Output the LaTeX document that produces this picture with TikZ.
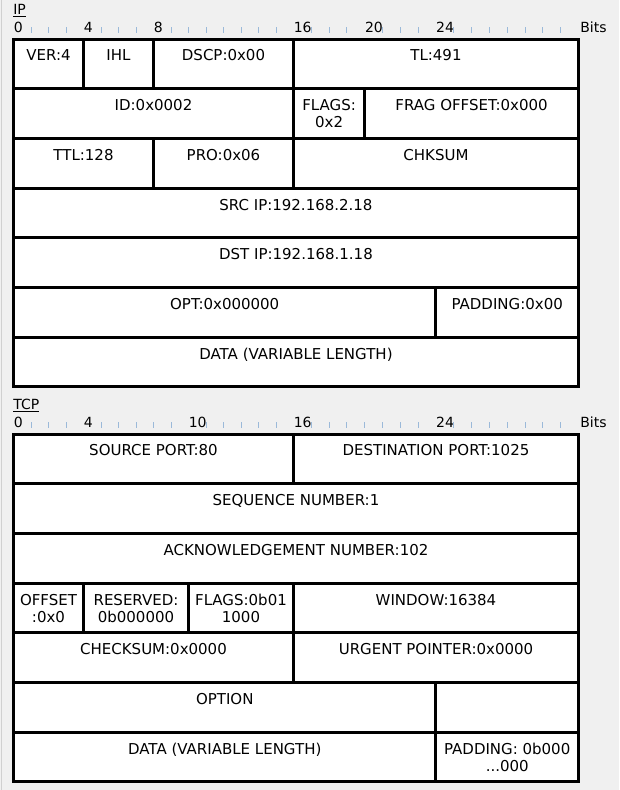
\documentclass[tikz,border=0pt]{standalone}
\usepackage{fontspec}
\setmainfont{DejaVu Sans}
\definecolor{panel}{HTML}{F0F0F0}
\definecolor{tickblue}{HTML}{9BB9D9}
\definecolor{rim}{HTML}{D0D0D0}
\newcommand*{\RowH}{49.7}
\newcommand*{\bx}[1]{(13.5+17.5*min(#1,16)+17.81*max(#1-16,0))}% bit -> x
\newcommand*{\Ruler}[4]{% #1 = title, #2 = baseline, #3 = numbered bits, #4 = ticked bits
  \node[title] (#1) at (13,#2-18) {\underline{#1}};
  \foreach \k in {#3}
    \node[bitnum] (#1-\k) at ({\bx{\k}},#2) {\k};
  \foreach \k in {#4}
    \draw[bittick] ({\bx{\k}},#2-5) -- ({\bx{\k}},#2+1);
  \node[bitnum] (#1-bits) at (580,#2) {Bits};
}
\newcommand*{\Fields}[2]{% #1 = top, #2 = list of name/from/to/row/text
  \foreach \n/\a/\b/\r/\t in {#2} {
    \draw[cellbox] ({\bx{\a}},#1+\RowH*\r) rectangle ({\bx{\b}},#1+\RowH*\r+\RowH);
    \node[celltext] (\n) at ({(\bx{\a}+\bx{\b})/2},#1+\RowH*\r+10.5) {\t};
  }%
}

\begin{document}
\begin{tikzpicture}[x=0.75pt,y=-0.75pt,
    title/.style={anchor=base west,inner sep=0pt,font=\fontsize{10.5}{12}\selectfont},
    bitnum/.style={anchor=base west,inner sep=0pt,font=\fontsize{10.5}{12}\selectfont},
    bittick/.style={draw=tickblue,line width=0.75pt},
    cellbox/.style={draw=black,fill=white,line width=2.25pt},
    celltext/.style={anchor=north,inner sep=0pt,align=center,
      font=\fontsize{11.25}{12.75}\selectfont}]
  \useasboundingbox[fill=panel] (0,0) rectangle (619,790);
  \draw[rim,line width=1pt] (1.5,0) -- (1.5,790);

  % IP header
  \Ruler{IP}{32}{0,4,8,16,20,24}
    {1,2,3,5,6,7,9,10,11,12,13,14,15,17,18,19,21,22,23,25,26,27,28,29,30,31}
  \Fields{39}{ver/0/4/0/VER:4, ihl/4/8/0/IHL, dscp/8/16/0/DSCP:0x00, tl/16/32/0/TL:491,
    id/0/16/1/ID:0x0002, flags/16/20/1/{FLAGS:\\0x2}, frag/20/32/1/FRAG OFFSET:0x000,
    ttl/0/8/2/TTL:128, pro/8/16/2/PRO:0x06, chksum/16/32/2/CHKSUM,
    src/0/32/3/SRC IP:192.168.2.18,
    dst/0/32/4/DST IP:192.168.1.18,
    opt/0/24/5/OPT:0x000000, pad/24/32/5/PADDING:0x00,
    data/0/32/6/DATA (VARIABLE LENGTH)}

  % TCP header
  \Ruler{TCP}{427}{0,4,10,16,24}
    {1,2,3,5,6,7,8,9,11,12,13,14,15,17,18,19,20,21,22,23,25,26,27,28,29,30,31}
  \Fields{434}{sport/0/16/0/SOURCE PORT:80, dport/16/32/0/DESTINATION PORT:1025,
    seq/0/32/1/SEQUENCE NUMBER:1,
    ack/0/32/2/ACKNOWLEDGEMENT NUMBER:102,
    offset/0/4/3/{OFFSET\\:0x0}, resv/4/10/3/{RESERVED:\\0b000000},
    tflags/10/16/3/{FLAGS:0b01\\1000}, window/16/32/3/WINDOW:16384,
    tsum/0/16/4/CHECKSUM:0x0000, urg/16/32/4/URGENT POINTER:0x0000,
    option/0/24/5/OPTION, blank/24/32/5/{},
    tdata/0/24/6/DATA (VARIABLE LENGTH), tpad/24/32/6/{PADDING: 0b000\\...000}}
\end{tikzpicture}
\end{document}
